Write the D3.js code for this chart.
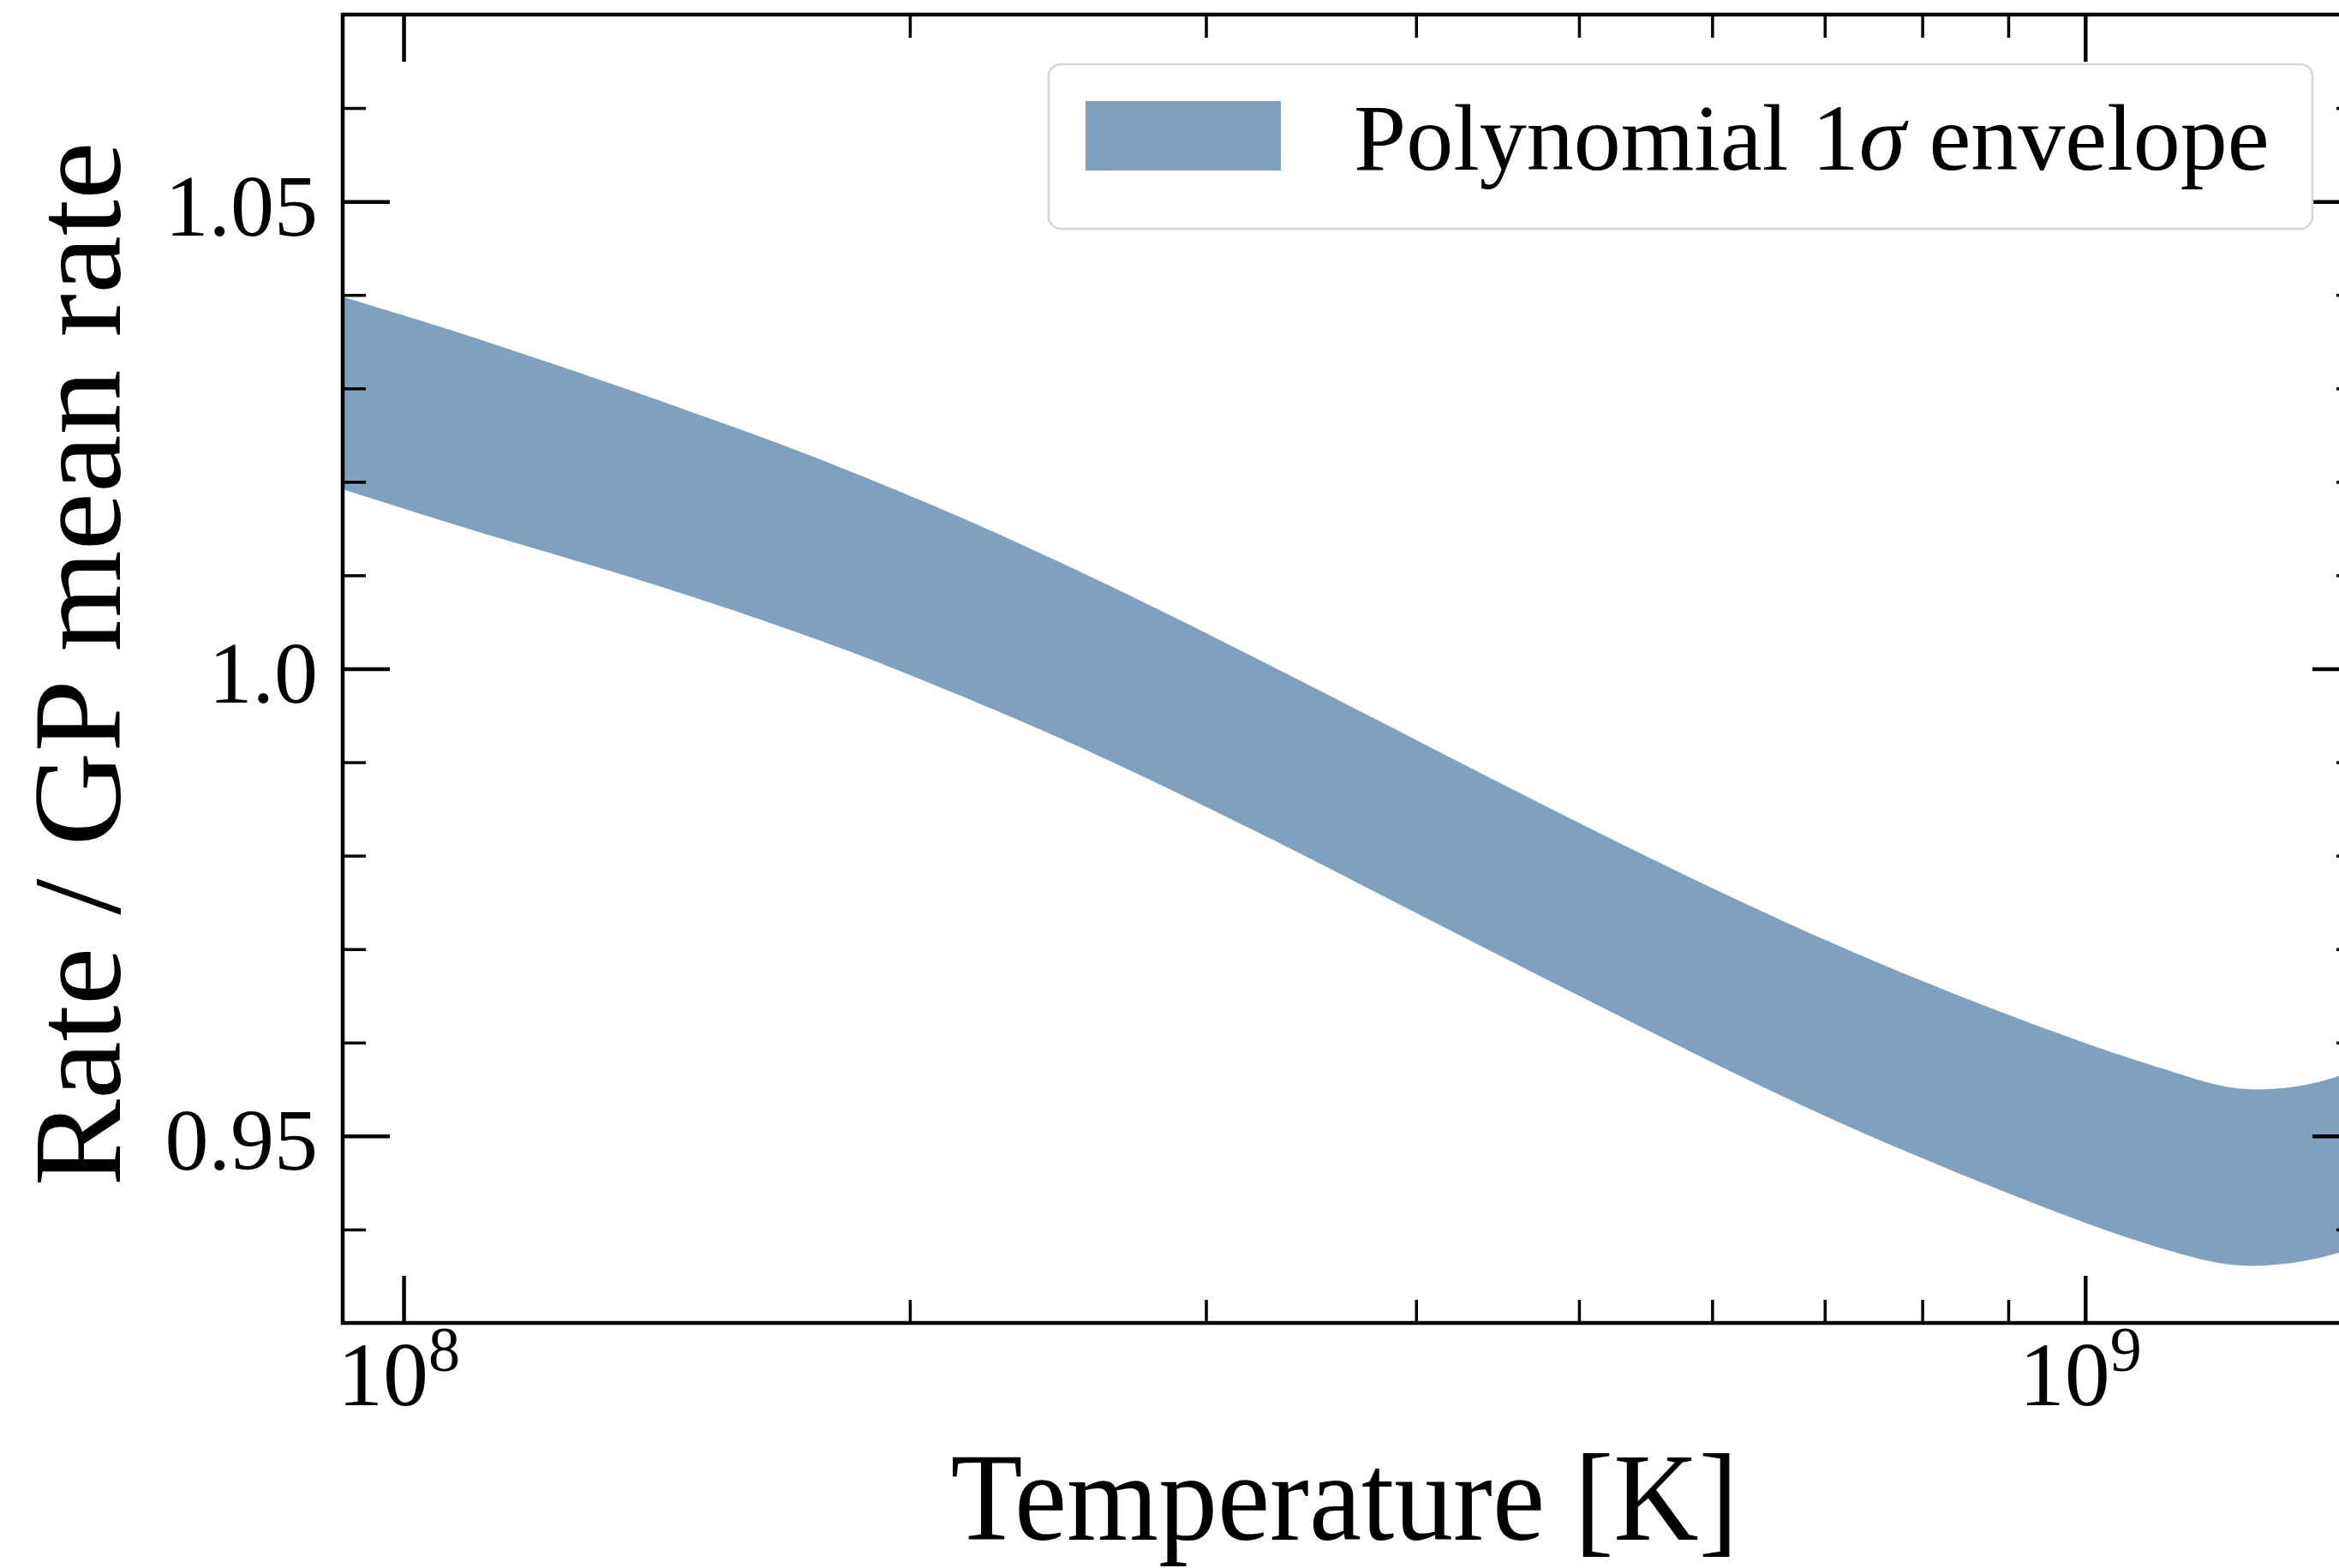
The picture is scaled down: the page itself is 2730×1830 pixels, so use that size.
<!DOCTYPE html>
<html>
<head>
<meta charset="utf-8">
<script src="https://cdn.jsdelivr.net/npm/d3@7/dist/d3.min.js"></script>
<style>
  html, body { margin: 0; padding: 0; background: #fff; }
  svg { display: block; }
  text { font-family: "Liberation Serif", "DejaVu Serif", serif; fill: #000; }
</style>
</head>
<body>
<svg id="chart"></svg>
<script>
// temperature grid (GK) and the 1 sigma envelope
var tempGK = [0.092, 0.1005, 0.110, 0.120, 0.132, 0.144, 0.1575, 0.172, 0.188, 0.206, 0.2255, 0.247, 0.270, 0.295,
              0.323, 0.346, 0.414, 0.496, 0.593, 0.710, 0.850, 1.017, 1.113, 1.180, 1.240, 1.300, 1.360, 1.416, 1.456];
var upperRatio = [1.0398, 1.0377, 1.0355, 1.0332, 1.0307, 1.0283, 1.0258, 1.0233, 1.0205, 1.0176, 1.0145, 1.0112, 1.0079, 1.0045,
                  1.0009, 0.9982, 0.9910, 0.9838, 0.9769, 0.9704, 0.9646, 0.9594, 0.9572, 0.9557, 0.9549, 0.9550, 0.9555, 0.9564, 0.9572];
var lowerRatio = [1.0192, 1.0170, 1.0148, 1.0128, 1.0106, 1.0085, 1.0062, 1.0038, 1.0013, 0.9984, 0.9955, 0.9924, 0.9892, 0.9859,
                  0.9824, 0.9797, 0.9725, 0.9653, 0.9583, 0.9515, 0.9456, 0.9401, 0.9379, 0.9366, 0.9360, 0.9362, 0.9367, 0.9375, 0.9382];

var xMajor = [1e8, 1e9];
var xMajorExp = ["8", "9"];
var xMinor = [2e8, 3e8, 4e8, 5e8, 6e8, 7e8, 8e8, 9e8];
var yMajor = [0.95, 1.0, 1.05];
var yMajorLabels = ["0.95", "1.0", "1.05"];
var yMinor = [0.94, 0.96, 0.97, 0.98, 0.99, 1.01, 1.02, 1.03, 1.04, 1.06];

var legendLabel = "Polynomial 1";
var legendSigma = "σ";
var legendRest = " envelope";
var xTitle = "Temperature [K]";
var yTitle = "Rate / GP mean rate";

var W = 2730, H = 1830;
var padL = 400, padT = 17, padR = 2754, padB = 1544;
var bandColor = "#7fa1bf";
var majorLen = 55, minorLen = 27;

var rows = tempGK.map(function(t, i) {
    return {T: t * 1e9, hi: upperRatio[i], lo: lowerRatio[i]};
});

var svg = d3.select("#chart")
    .attr("width", W)
    .attr("height", H);

svg.append("rect")
    .attr("width", W)
    .attr("height", H)
    .attr("fill", "#fff");

var x = d3.scaleLog()
    .domain([0.092e9, 1.456e9])
    .range([padL, padR]);

var y = d3.scaleLinear()
    .domain([0.93, 1.07])
    .range([padB, padT]);

svg.append("clipPath")
    .attr("id", "plotclip")
  .append("rect")
    .attr("x", padL)
    .attr("y", padT)
    .attr("width", padR - padL)
    .attr("height", padB - padT);

var area = d3.area()
    .x(function(d) { return x(d.T); })
    .y0(function(d) { return y(d.lo); })
    .y1(function(d) { return y(d.hi); })
    .curve(d3.curveBasis);

svg.append("path")
    .datum(rows)
    .attr("clip-path", "url(#plotclip)")
    .attr("d", area)
    .attr("fill", bandColor);

// axes: ticks point inward on all four sides
function styleAxis(g, width) {
    g.select(".domain").remove();
    g.selectAll(".tick line")
        .attr("stroke", "#000")
        .attr("stroke-width", width);
}

svg.append("g")
    .attr("transform", "translate(" + padL + ",0)")
    .call(d3.axisLeft(y).tickValues(yMinor).tickSize(-minorLen).tickFormat(""))
    .call(styleAxis, 3.5);

svg.append("g")
    .attr("transform", "translate(" + padR + ",0)")
    .call(d3.axisRight(y).tickValues(yMinor).tickSize(-minorLen).tickFormat(""))
    .call(styleAxis, 3.5);

svg.append("g")
    .attr("transform", "translate(" + padR + ",0)")
    .call(d3.axisRight(y).tickValues(yMajor).tickSize(-majorLen).tickFormat(""))
    .call(styleAxis, 4.5);

var gyMaj = svg.append("g")
    .attr("transform", "translate(" + padL + ",0)")
    .call(d3.axisLeft(y).tickValues(yMajor).tickSize(-majorLen).tickPadding(29)
        .tickFormat(function(d, i) { return yMajorLabels[i]; }));
styleAxis(gyMaj, 4.5);
gyMaj.attr("font-family", null).attr("font-size", null);
gyMaj.selectAll(".tick text")
    .attr("fill", "#000")
    .attr("font-size", 102)
    .attr("dy", null)
    .attr("y", 39);

svg.append("g")
    .attr("transform", "translate(0," + padB + ")")
    .call(d3.axisBottom(x).tickValues(xMinor).tickSize(-minorLen).tickFormat(""))
    .call(styleAxis, 3.5);

svg.append("g")
    .attr("transform", "translate(0," + padT + ")")
    .call(d3.axisTop(x).tickValues(xMinor).tickSize(-minorLen).tickFormat(""))
    .call(styleAxis, 3.5);

svg.append("g")
    .attr("transform", "translate(0," + padT + ")")
    .call(d3.axisTop(x).tickValues(xMajor).tickSize(-majorLen).tickFormat(""))
    .call(styleAxis, 4.5);

var gxMaj = svg.append("g")
    .attr("transform", "translate(0," + padB + ")")
    .call(d3.axisBottom(x).tickValues(xMajor).tickSize(-majorLen).tickFormat(""));
styleAxis(gxMaj, 4.5);
gxMaj.attr("font-family", null).attr("font-size", null);
gxMaj.selectAll(".tick text").remove();

var xl = gxMaj.selectAll(".tick")
  .append("text")
    .attr("text-anchor", "middle")
    .attr("x", -6)
    .attr("y", 96)
    .attr("font-size", 106);
xl.append("tspan").text("10");
xl.append("tspan")
    .attr("font-size", 74)
    .attr("dy", -40)
    .text(function(d, i) { return xMajorExp[i]; });

// frame
svg.append("rect")
    .attr("x", padL)
    .attr("y", padT)
    .attr("width", padR - padL)
    .attr("height", padB - padT)
    .attr("fill", "none")
    .attr("stroke", "#000")
    .attr("stroke-width", 4.5);

// axis titles
svg.append("text")
    .attr("x", 1569)
    .attr("y", 1797)
    .attr("text-anchor", "middle")
    .attr("font-size", 146)
    .attr("textLength", 919)
    .attr("lengthAdjust", "spacingAndGlyphs")
    .text(xTitle);

svg.append("text")
    .attr("transform", "translate(140,775) rotate(-90)")
    .attr("text-anchor", "middle")
    .attr("font-size", 146)
    .attr("textLength", 1219)
    .attr("lengthAdjust", "spacingAndGlyphs")
    .text(yTitle);

// legend
var leg = svg.append("g");
leg.append("rect")
    .attr("x", 1224)
    .attr("y", 75)
    .attr("width", 1475)
    .attr("height", 192)
    .attr("rx", 14)
    .attr("ry", 14)
    .attr("fill", "#fff")
    .attr("fill-opacity", 0.8)
    .attr("stroke", "#d6d6d6")
    .attr("stroke-width", 2.5);

leg.append("rect")
    .attr("x", 1267)
    .attr("y", 118)
    .attr("width", 228)
    .attr("height", 81)
    .attr("fill", bandColor);

var lt = leg.append("text")
    .attr("x", 1580)
    .attr("y", 198)
    .attr("font-size", 110);
lt.append("tspan").text(legendLabel);
lt.append("tspan").attr("font-style", "italic").text(legendSigma);
lt.append("tspan").text(legendRest);
</script>
</body>
</html>
